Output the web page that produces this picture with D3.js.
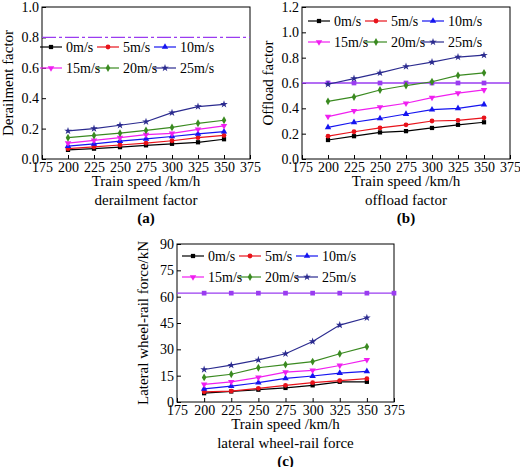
<!DOCTYPE html><html><head><meta charset="utf-8">
<script src="https://cdn.jsdelivr.net/npm/d3@7"></script>
<style>body{margin:0;background:#fff}text{font-family:"Liberation Serif","Times New Roman",serif}</style>
</head><body><svg id="c" width="520" height="467"></svg>
<script>
const speeds=[200,225,250,275,300,325,350];
const xTicks=[175,200,225,250,275,300,325,350,375];
const seriesNames=["0m/s","5m/s","10m/s","15m/s","20m/s","25m/s"];
const colors=["#000000","#e8131b","#1515f0","#f01ff0","#3a8a20","#2b2b8f"];
const markers=["square","circle","triangle","triangleDown","diamond","star"];
const derail=[[.06,.068,.078,.09,.10,.11,.13],[.068,.08,.092,.105,.12,.14,.155],[.085,.10,.118,.133,.148,.165,.18],[.105,.123,.14,.16,.168,.195,.218],[.14,.155,.17,.188,.208,.235,.255],[.185,.2,.222,.245,.305,.345,.36]];
const offload=[[.15,.18,.21,.22,.245,.27,.29],[.18,.215,.245,.27,.30,.305,.325],[.25,.29,.32,.355,.39,.40,.43],[.335,.38,.41,.44,.485,.52,.545],[.455,.49,.545,.58,.61,.66,.68],[.59,.635,.68,.73,.765,.805,.82]];
const lateral=[[5,6,7,8,9.5,11.5,11.5],[5.8,6.2,7.8,9.5,11,12.2,13.3],[7.5,9,11,13.5,14.8,16.5,17.5],[10,11.5,14,17,18,20.8,24],[14,15.8,19.5,21.3,23,27.5,31.5],[18.5,21,24,27.5,34.5,43.8,48]];
const svg=d3.select("#c");
const symMap={square:d3.symbolSquare,circle:d3.symbolCircle,triangle:d3.symbolTriangle,triangleDown:d3.symbolTriangle,diamond:d3.symbolDiamond,star:d3.symbolStar};
function panel(o){
 const g=svg.append("g");
 const x=d3.scaleLinear().domain([175,375]).range([o.x0,o.x1]);
 const y=d3.scaleLinear().domain(o.yd).range([o.y1,o.y0]);
 g.append("rect").attr("x",o.x0).attr("y",o.y0).attr("width",o.x1-o.x0).attr("height",o.y1-o.y0).attr("fill","none").attr("stroke","#000");
 const xa=g.append("g").attr("transform",`translate(0,${o.y1})`).call(d3.axisBottom(x).tickValues(xTicks).tickSize(4).tickSizeOuter(0));
 const ya=g.append("g").attr("transform",`translate(${o.x0},0)`).call(d3.axisLeft(y).tickValues(o.yt).tickFormat(o.fmt).tickSize(4).tickSizeOuter(0));
 [xa,ya].forEach(a=>{a.selectAll(".tick line").attr("transform",a===xa?"translate(0,-4)":"translate(4,0)");a.selectAll("text").style("font-size","14px").attr("fill","#000");a.select(".domain").remove();});
 xa.selectAll("text").attr("y",2).attr("dy","0.75em");
 ya.selectAll("text").attr("x",-3);
 const ty=y(o.th);
 g.append("line").attr("x1",o.x0).attr("x2",o.x1).attr("y1",ty).attr("y2",ty).attr("stroke","#9a3cf0").attr("stroke-width",1.3).attr("stroke-dasharray",o.thDash||null);
 if(o.thMarks) o.thMarks.forEach(v=>g.append("path").attr("d",d3.symbol(d3.symbolSquare,22)()).attr("transform",`translate(${x(v)},${ty})`).attr("fill","#9a3cf0"));
 const line=d3.line().x((d,i)=>x(speeds[i])).y(d=>y(d));
 o.data.forEach((s,k)=>{
  g.append("path").attr("d",line(s)).attr("fill","none").attr("stroke",colors[k]).attr("stroke-width",1.2);
  s.forEach((v,i)=>g.append("path").attr("d",d3.symbol(symMap[markers[k]],18)()).attr("transform",`translate(${x(speeds[i])},${y(v)})${markers[k]==="triangleDown"?" rotate(180)":""}`).attr("fill",colors[k]));
 });
 seriesNames.forEach((n,k)=>{
  const col=k%3,row=Math.floor(k/3);
  const lx=o.lx+col*o.lw, ly=o.ly+row*o.lh;
  g.append("line").attr("x1",lx).attr("x2",lx+22).attr("y1",ly).attr("y2",ly).attr("stroke",colors[k]).attr("stroke-width",1.2);
  g.append("path").attr("d",d3.symbol(symMap[markers[k]],18)()).attr("transform",`translate(${lx+11},${ly})${markers[k]==="triangleDown"?" rotate(180)":""}`).attr("fill",colors[k]);
  g.append("text").attr("x",lx+26).attr("y",ly+5).text(n).style("font-size","14px");
 });
 const cx=(o.x0+o.x1)/2;
 g.append("text").attr("x",cx).attr("y",o.y1+27).attr("text-anchor","middle").style("font-size","15px").text("Train speed /km/h");
 g.append("text").attr("x",cx).attr("y",o.y1+46).attr("text-anchor","middle").style("font-size","15px").text(o.sub);
 g.append("text").attr("x",cx).attr("y",o.y1+64).attr("text-anchor","middle").style("font-size","15px").style("font-weight","bold").text(o.lab);
 g.append("text").attr("transform",`translate(${o.x0-29},${(o.y0+o.y1)/2}) rotate(-90)`).attr("text-anchor","middle").style("font-size","15px").text(o.ylab);
}
panel({x0:42,x1:250,y0:7,y1:159,yd:[0,1],yt:[0,.2,.4,.6,.8,1],fmt:d3.format(".1f"),th:.8,thDash:"14,3,3,3",data:derail,lx:40,ly:47,lw:57,lh:21,sub:"derailment factor",lab:"(a)",ylab:"Derailment factor"});
panel({x0:302,x1:510,y0:7,y1:159,yd:[0,1.2],yt:[0,.2,.4,.6,.8,1,1.2],fmt:d3.format(".1f"),th:.6,thMarks:[200,225,250,275,300,325,350],data:offload,lx:308,ly:21,lw:57,lh:21,sub:"offload factor",lab:"(b)",ylab:"Offload factor"});
panel({x0:177,x1:394,y0:244,y1:402,yd:[0,90],yt:[0,15,30,45,60,75,90],fmt:d3.format("d"),th:62,thMarks:[200,225,250,275,300,325,350,375],data:lateral,lx:182,ly:256,lw:57,lh:21,sub:"lateral wheel-rail force",lab:"(c)",ylab:"Lateral wheel-rail force/kN"});
</script></body></html>
